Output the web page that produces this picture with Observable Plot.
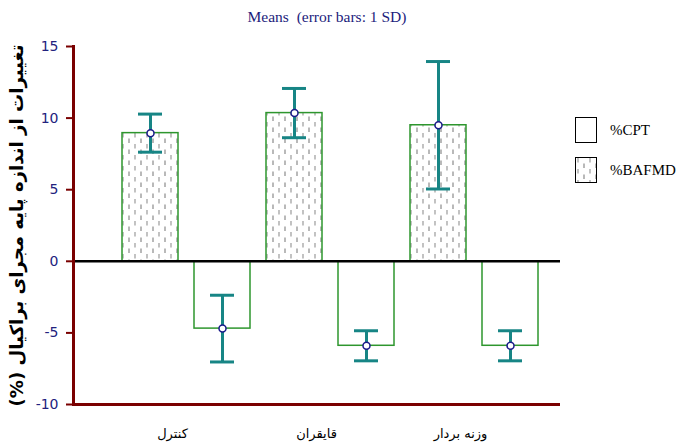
<!DOCTYPE html>
<html><head><meta charset="utf-8">
<script src="https://cdn.jsdelivr.net/npm/d3@7"></script>
<script src="https://cdn.jsdelivr.net/npm/@observablehq/plot@0.6"></script>
<style>
body{margin:0;background:#fff}
#wrap{position:relative;width:695px;height:444px}
#title{position:absolute;left:0;width:654px;top:8px;text-align:center;font:15.5px "Liberation Serif",serif;color:#1c1c7c;white-space:pre;line-height:18px}
.leg{position:absolute;left:575px;display:flex;align-items:center;font:15px "Liberation Serif",serif;color:#000}
.leg svg{margin-right:13px;display:block}
</style></head><body>
<svg width="0" height="0" style="position:absolute">
  <defs>
    <pattern id="dash" patternUnits="userSpaceOnUse" width="12" height="11">
      <rect width="12" height="11" fill="#fff"/>
      <line x1="3" y1="1" x2="3" y2="5.5" stroke="#9a9a9a" stroke-width="1.2"/>
      <line x1="9" y1="6.5" x2="9" y2="11" stroke="#8a8a8a" stroke-width="1.2"/>
    </pattern>
  </defs>
</svg>
<div id="wrap">
  <div id="chart"></div>
  <div id="title"></div>
  <div id="legend"></div>
</div>
<script>
const groups = ["کنترل", "قایقران", "وزنه بردار"];
const series = ["%BAFMD", "%CPT"];
const bafmdMean = [8.95, 10.35, 9.5];
const bafmdSD = [1.33, 1.72, 4.45];
const cptMean = [-4.7, -5.9, -5.9];
const cptSD = [2.33, 1.05, 1.05];
const yTicks = [-10, -5, 0, 5, 10, 15];
const titleText = "Means  (error bars: 1 SD)";
const yLabel = "تغییرات از اندازه پایه مجرای براکیال (%)";
const legendOrder = ["%CPT", "%BAFMD"];

const rows = groups.flatMap((g, i) => [
  {group: g, series: series[0], key: g + "|" + series[0], mean: bafmdMean[i], sd: bafmdSD[i]},
  {group: g, series: series[1], key: g + "|" + series[1], mean: cptMean[i], sd: cptSD[i]}
]);

const teal = "#178585", green = "#2e962e", axisRed = "#7a0000", navy = "#22227e";

const chart = Plot.plot({
  width: 695, height: 444,
  marginLeft: 73, marginRight: 135, marginTop: 46, marginBottom: 40,
  x: {type: "band", domain: rows.map(d => d.key), paddingInner: 0.22, paddingOuter: 0.46, align: 0.69, axis: null},
  y: {domain: [-10, 15], axis: null},
  color: {domain: series, range: ["url(#dash)", "#fff"]},
  style: {fontFamily: "DejaVu Sans", fontSize: "13px", background: "transparent"},
  marks: [
    Plot.barY(rows, {x: "key", y1: 0, y2: "mean", fill: "series", stroke: green, strokeWidth: 1.5}),
    Plot.ruleY([0], {stroke: "#000", strokeWidth: 2.5}),
    Plot.ruleY([-10], {stroke: axisRed, strokeWidth: 3}),
    Plot.frame({anchor: "left", stroke: axisRed, strokeWidth: 3}),
    Plot.axisY({ticks: yTicks, tickFormat: d => String(d), tickSize: 7, tickPadding: 8, stroke: axisRed, fill: navy, strokeWidth: 2, label: null, fontSize: 14}),
    Plot.ruleX(rows, {x: "key", y1: d => d.mean - d.sd, y2: d => d.mean + d.sd, stroke: teal, strokeWidth: 3}),
    Plot.tickY(rows, {x: "key", y: d => d.mean + d.sd, inset: 16, stroke: teal, strokeWidth: 3}),
    Plot.tickY(rows, {x: "key", y: d => d.mean - d.sd, inset: 16, stroke: teal, strokeWidth: 3}),
    Plot.dot(rows, {x: "key", y: "mean", r: 3.5, fill: "#fff", stroke: "#1a1a8a", strokeWidth: 1.5}),
    Plot.text(groups, {x: g => g + "|" + series[0], text: d => d, frameAnchor: "bottom", dy: 33, dx: 22, fontSize: 13, fill: "#000"}),
    Plot.text([yLabel], {text: d => d, frameAnchor: "left", textAnchor: "middle", dx: -56, rotate: -90, fontSize: 18, fontWeight: "bold", fill: "#000", fontFamily: "DejaVu Sans Condensed, DejaVu Sans"})
  ]
});
document.getElementById("chart").appendChild(chart);
document.getElementById("title").textContent = titleText;

// right-to-left axis title, fitted to the reference's length
const lab = [...chart.querySelectorAll("text")].find(t => t.textContent === yLabel);
if (lab) {
  lab.setAttribute("direction", "rtl");
  lab.style.direction = "rtl";
  lab.setAttribute("textLength", 362);
  lab.setAttribute("lengthAdjust", "spacingAndGlyphs");
}

const legend = document.getElementById("legend");
legendOrder.forEach((s, i) => {
  const div = document.createElement("div");
  div.className = "leg";
  div.style.top = (117 + i * 40) + "px";
  const fill = s === series[0] ? "url(#dash)" : "#fff";
  div.innerHTML = `<svg width="22" height="26"><rect x="0.5" y="0.5" width="21" height="25" fill="${fill}" stroke="#000" stroke-width="1"/></svg>`;
  div.appendChild(document.createTextNode(s));
  legend.appendChild(div);
});
</script>
</body></html>
